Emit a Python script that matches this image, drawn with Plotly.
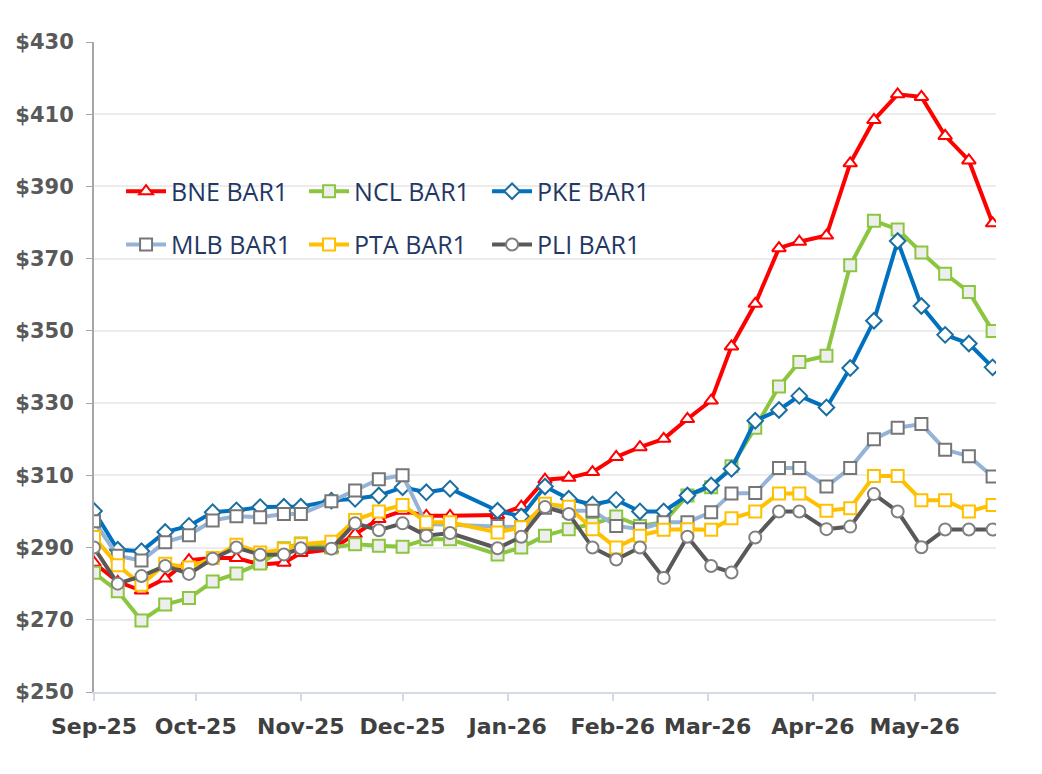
import plotly.graph_objects as go

dates = ["2025-09-01", "2025-09-08", "2025-09-15", "2025-09-22", "2025-09-29",
         "2025-10-06", "2025-10-13", "2025-10-20", "2025-10-27", "2025-11-01",
         "2025-11-10", "2025-11-17", "2025-11-24", "2025-12-01", "2025-12-08",
         "2025-12-15", "2025-12-29", "2026-01-05", "2026-01-12", "2026-01-19",
         "2026-01-26", "2026-02-02", "2026-02-09", "2026-02-16", "2026-02-23",
         "2026-03-02", "2026-03-08", "2026-03-15", "2026-03-22", "2026-03-28",
         "2026-04-05", "2026-04-12", "2026-04-19", "2026-04-26", "2026-05-03",
         "2026-05-10", "2026-05-17", "2026-05-24"]

bne = [285.8, 280.5, 278.1, 281.4, 286.5, 287.1, 287.1, 285.3, 285.8, 288.5,
       289.5, 293.7, 297.9, 300.2, 298.8, 298.8, 299.0, 301.3, 308.8, 309.3,
       310.9, 315.1, 317.8, 320.1, 325.6, 330.7, 345.7, 357.5, 372.9, 374.7,
       376.4, 396.4, 408.4, 415.5, 414.8, 404.0, 397.2, 379.8]
ncl = [283.0, 277.9, 269.8, 274.2, 276.0, 280.6, 282.8, 285.6, 289.8, 291.1,
       290.0, 290.9, 290.5, 290.2, 292.3, 292.3, 288.1, 290.0, 293.3, 295.1,
       296.5, 298.6, 296.0, 297.0, 304.4, 306.7, 312.5, 323.2, 334.6, 341.4,
       343.1, 368.2, 380.5, 378.1, 371.7, 365.8, 360.8, 350.0]
pke = [300.1, 289.4, 289.0, 294.3, 296.0, 299.8, 300.3, 301.2, 301.3, 301.3,
       303.0, 303.5, 304.4, 306.7, 305.3, 306.3, 300.2, 298.6, 306.9, 303.5,
       301.9, 303.2, 300.0, 300.0, 304.4, 307.2, 311.8, 325.1, 328.1, 332.0,
       328.8, 339.7, 352.8, 374.9, 356.9, 348.9, 346.5, 339.9]
mlb = [297.3, 287.7, 286.4, 291.5, 293.4, 297.5, 298.7, 298.4, 299.3, 299.3,
       302.8, 305.8, 308.9, 310.0, 296.5, 296.3, 296.0, 295.6, 301.0, 300.2,
       300.2, 296.0, 295.1, 297.0, 297.0, 299.8, 305.0, 305.1, 312.0, 312.0,
       306.9, 312.0, 320.0, 323.2, 324.2, 317.1, 315.3, 309.7]
pta = [292.9, 285.1, 279.7, 285.5, 284.5, 287.1, 290.8, 288.6, 289.5, 290.9,
       291.6, 297.6, 300.0, 301.8, 297.0, 297.0, 294.2, 295.6, 302.1, 301.3,
       295.1, 290.0, 293.3, 294.9, 295.1, 294.9, 298.1, 300.0, 305.0, 305.0,
       300.2, 300.9, 309.8, 309.8, 303.1, 303.1, 300.0, 301.8]
pli = [290.0, 280.0, 282.1, 284.9, 282.7, 286.9, 290.0, 288.0, 288.1, 289.8,
       289.7, 296.7, 294.8, 296.7, 293.3, 294.0, 289.8, 293.0, 301.2, 299.3,
       290.0, 286.7, 290.0, 281.6, 293.0, 284.9, 283.1, 292.8, 300.0, 300.0,
       295.1, 295.8, 304.8, 300.0, 290.1, 295.0, 295.0, 295.0]

series = [
    ("BNE BAR1", bne, "#FF0000", "triangle-up", "#FFFFFF", "#FF0000", "legend"),
    ("NCL BAR1", ncl, "#8CC540", "square", "#EEEEEE", "#8CC540", "legend"),
    ("PKE BAR1", pke, "#0070C0", "diamond", "#FFFFFF", "#1A6FA0", "legend"),
    ("MLB BAR1", mlb, "#95B3D7", "square", "#FFFFFF", "#767676", "legend2"),
    ("PTA BAR1", pta, "#FFC000", "square", "#FFFFFF", "#FFC000", "legend2"),
    ("PLI BAR1", pli, "#595959", "circle", "#FFFFFF", "#808080", "legend2"),
]

fig = go.Figure()
for name, vals, col, sym, fill, edge, lg in series:
    fig.add_trace(go.Scatter(
        x=dates, y=vals, name=name, mode="lines+markers",
        line=dict(color=col, width=4),
        marker=dict(symbol=sym, size=12,
                    color=fill, line=dict(color=edge, width=2)),
        legend=lg,
    ))

tickfont_y = dict(family="DejaVu Sans", size=21, color="#595959", weight="bold")
tickfont_x = dict(family="DejaVu Sans", size=22, color="#404040", weight="bold")
legfont = dict(family="Open Sans", size=25, color="#1F3864")

fig.update_layout(
    width=1042, height=774,
    margin=dict(l=94, r=46, t=42, b=82, autoexpand=False),
    paper_bgcolor="white", plot_bgcolor="white",
    showlegend=True,
    legend=dict(orientation="h", x=0.03, y=0.77, xanchor="left", yanchor="middle",
                font=legfont, bgcolor="rgba(0,0,0,0)", entrywidth=128,
                entrywidthmode="pixels", itemwidth=40, tracegroupgap=0),
    legend2=dict(orientation="h", x=0.03, y=0.688, xanchor="left", yanchor="middle",
                 font=legfont, bgcolor="rgba(0,0,0,0)", entrywidth=128,
                 entrywidthmode="pixels", itemwidth=40, tracegroupgap=0),
    xaxis=dict(
        type="date", range=["2025-09-01", "2026-05-25"],
        tick0="2025-09-01", dtick="M1", tickformat="%b-%y",
        showgrid=False, showline=True, linecolor="#D3DCE6", linewidth=2,
        ticks="outside", ticklen=7, tickcolor="#D3DCE6", tickwidth=2,
        tickfont=tickfont_x, ticklabelstandoff=7, zeroline=False,
    ),
    yaxis=dict(
        range=[250, 430], dtick=20, tick0=250, tickprefix="$",
        showgrid=True, gridcolor="#ECECEC", gridwidth=1.5,
        showline=True, linecolor="#A6A6A6", linewidth=2,
        ticks="outside", ticklen=6, tickcolor="#A6A6A6", tickwidth=1,
        tickfont=tickfont_y, ticklabelstandoff=8, zeroline=False,
    ),
)

fig.write_html("out.html")
